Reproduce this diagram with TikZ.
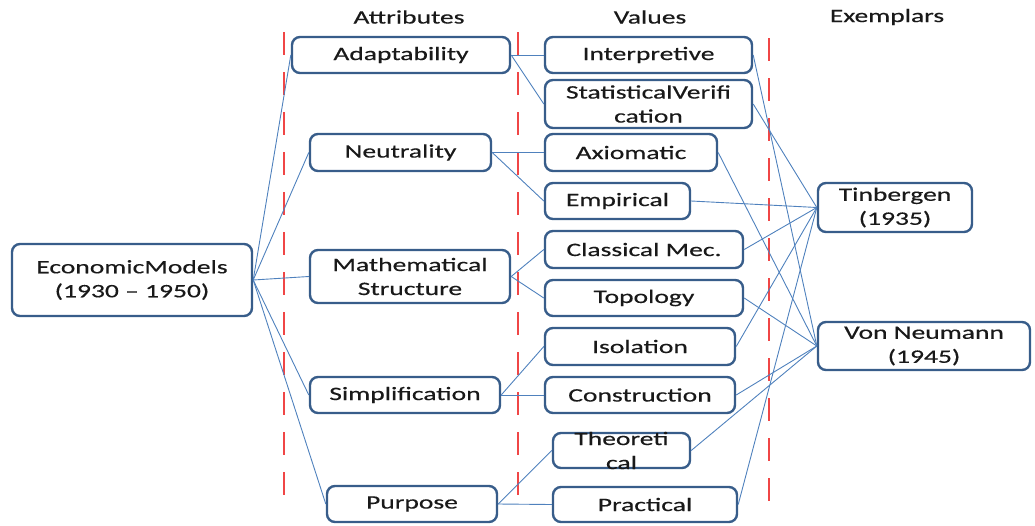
\documentclass[tikz,border=0pt]{standalone}
\usepackage{fontspec}
\newfontfamily\diafont{Carlito}[FakeStretch=1.45, FakeBold=0.4]
\usetikzlibrary{positioning, calc}
\definecolor{boxblue}{RGB}{56,93,138}
\definecolor{linkblue}{RGB}{79,129,189}
\definecolor{dashred}{RGB}{240,70,70}

\begin{document}
\begin{tikzpicture}[x=1pt, y=-1pt,
  every node/.style={font=\diafont\fontsize{19}{24}\selectfont, text=black!90, align=center},
  box/.style={draw=boxblue, line width=2.4pt, rounded corners=8pt, fill=white, inner sep=0pt},
  link/.style={draw=linkblue, line width=0.9pt},
  divider/.style={draw=dashred, line width=1.8pt, dash pattern=on 23pt off 17pt}]
  \useasboundingbox (0,0) rectangle (1035,525);

  % column dividers
  \draw[divider] (284,32) -- (284,500);
  \draw[divider] (518,32) -- (518,500);
  \draw[divider] (769,38) -- (769,506);

  % headers
  \node (hattr) at (409,17) {Attributes};
  \node (hval)  at (650,17) {Values};
  \node (hexem) at (887,17) {Exemplars};

  % root
  \node[box, minimum width=240, minimum height=72] (econ) at (132,280) {EconomicModels\\(1930 – 1950)};

  % attributes
  \node[box, minimum width=218, minimum height=36] (adapt) at (401,55)    {Adaptability};
  \node[box, minimum width=181, minimum height=37] (neut)  at (400.5,152.5) {Neutrality};
  \node[box, minimum width=200, minimum height=53] (math)  at (410,276.5) {Mathematical\\Structure};
  \node[box, minimum width=190, minimum height=36] (simp)  at (405,395)   {Simplification};
  \node[box, minimum width=170, minimum height=36] (purp)  at (412,504)   {Purpose};

  % values
  \node[box, minimum width=207, minimum height=36] (interp) at (648.5,55)  {Interpretive};
  \node[box, minimum width=207, minimum height=48] (statv)  at (648.5,104) {StatisticalVerifi\\cation};
  \node[box, minimum width=172, minimum height=37] (axiom)  at (631,152.5) {Axiomatic};
  \node[box, minimum width=145, minimum height=36] (empir)  at (617.5,201) {Empirical};
  \node[box, minimum width=198, minimum height=37] (clmec)  at (644,249.5) {Classical Mec.};
  \node[box, minimum width=198, minimum height=36] (topo)   at (644,298)   {Topology};
  \node[box, minimum width=190, minimum height=37] (isol)   at (640,346.5) {Isolation};
  \node[box, minimum width=190, minimum height=36] (constr) at (640,395)   {Construction};
  \node[box, minimum width=137, minimum height=35] (theo)   at (621.5,450.5) {};
  \node (theotxt) at (theo.center) {Theoreti\\cal};
  \node[box, minimum width=184, minimum height=35] (pract)  at (645,504.5) {Practical};

  % exemplars
  \node[box, minimum width=154, minimum height=49] (tinb) at (895,207.5) {Tinbergen\\(1935)};
  \node[box, minimum width=212, minimum height=48] (vneu) at (924,346)   {Von Neumann\\(1945)};

  % connectors
  \foreach \a in {adapt,neut,math,simp,purp}
    \draw[link] (econ.east) -- (\a.west);
  \foreach \a/\v in {adapt/interp, adapt/statv, neut/axiom, neut/empir, math/clmec,
                     math/topo, simp/isol, simp/constr, purp/theo, purp/pract}
    \draw[link] (\a.east) -- (\v.west);
  \foreach \v/\e in {interp/vneu, statv/tinb, axiom/vneu, empir/tinb, clmec/tinb,
                     topo/vneu, isol/tinb, constr/vneu, theo/vneu, pract/tinb}
    \draw[link] (\v.east) -- (\e.west);
\end{tikzpicture}
\end{document}
